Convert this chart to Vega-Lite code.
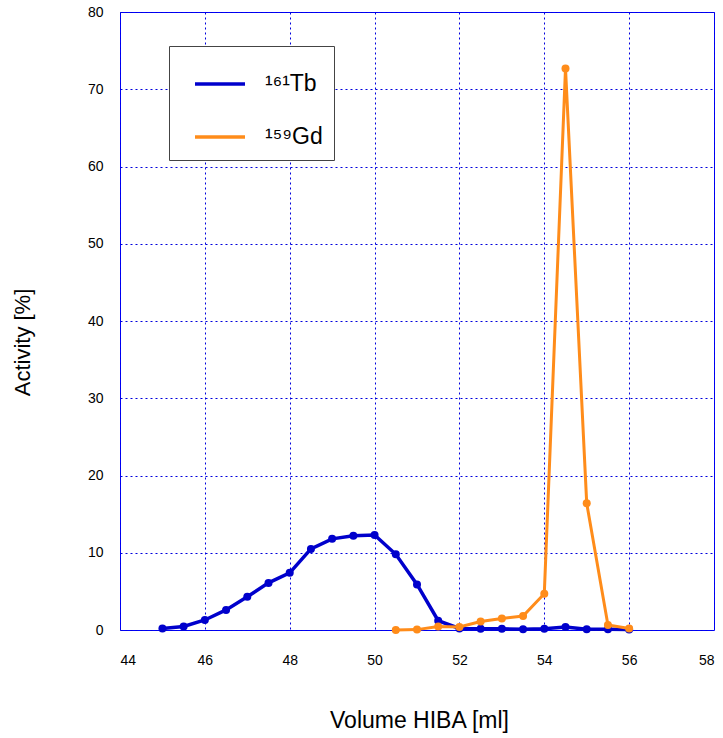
{
  "$schema": "https://vega.github.io/schema/vega-lite/v6.json",
  "autosize": {"type": "none"},
  "width": 594,
  "height": 618,
  "padding": {"left": 120, "top": 12, "right": 9, "bottom": 108},
  "background": "white",
  "config": {
    "font": "Liberation Sans",
    "view": {"stroke": "#0000ff", "strokeWidth": 1},
    "axis": {
      "grid": true,
      "gridColor": "#0000dd",
      "gridDash": [2, 3],
      "gridWidth": 1,
      "gridOpacity": 1,
      "domain": false,
      "ticks": false,
      "tickSize": 0,
      "labelColor": "black",
      "labelFontSize": 14,
      "labelFont": "Liberation Sans",
      "titleFont": "Liberation Sans",
      "titleFontSize": 22,
      "titleFontWeight": "normal",
      "titleColor": "black"
    }
  },
  "datasets": {
    "tb": [
      {"v": 45, "a": 0.2, "s": "¹⁶¹Tb"},
      {"v": 45.5, "a": 0.45, "s": "¹⁶¹Tb"},
      {"v": 46, "a": 1.3, "s": "¹⁶¹Tb"},
      {"v": 46.5, "a": 2.6, "s": "¹⁶¹Tb"},
      {"v": 47, "a": 4.3, "s": "¹⁶¹Tb"},
      {"v": 47.5, "a": 6.1, "s": "¹⁶¹Tb"},
      {"v": 48, "a": 7.4, "s": "¹⁶¹Tb"},
      {"v": 48.5, "a": 10.5, "s": "¹⁶¹Tb"},
      {"v": 49, "a": 11.8, "s": "¹⁶¹Tb"},
      {"v": 49.5, "a": 12.2, "s": "¹⁶¹Tb"},
      {"v": 50, "a": 12.3, "s": "¹⁶¹Tb"},
      {"v": 50.5, "a": 9.8, "s": "¹⁶¹Tb"},
      {"v": 51, "a": 5.9, "s": "¹⁶¹Tb"},
      {"v": 51.5, "a": 1.2, "s": "¹⁶¹Tb"},
      {"v": 52, "a": 0.2, "s": "¹⁶¹Tb"},
      {"v": 52.5, "a": 0.15, "s": "¹⁶¹Tb"},
      {"v": 53, "a": 0.15, "s": "¹⁶¹Tb"},
      {"v": 53.5, "a": 0.1, "s": "¹⁶¹Tb"},
      {"v": 54, "a": 0.15, "s": "¹⁶¹Tb"},
      {"v": 54.5, "a": 0.4, "s": "¹⁶¹Tb"},
      {"v": 55, "a": 0.1, "s": "¹⁶¹Tb"},
      {"v": 55.5, "a": 0.1, "s": "¹⁶¹Tb"},
      {"v": 56, "a": 0.05, "s": "¹⁶¹Tb"}
    ],
    "gd": [
      {"v": 50.5, "a": 0.0, "s": "¹⁵⁹Gd"},
      {"v": 51, "a": 0.05, "s": "¹⁵⁹Gd"},
      {"v": 51.5, "a": 0.45, "s": "¹⁵⁹Gd"},
      {"v": 52, "a": 0.4, "s": "¹⁵⁹Gd"},
      {"v": 52.5, "a": 1.1, "s": "¹⁵⁹Gd"},
      {"v": 53, "a": 1.5, "s": "¹⁵⁹Gd"},
      {"v": 53.5, "a": 1.8, "s": "¹⁵⁹Gd"},
      {"v": 54, "a": 4.7, "s": "¹⁵⁹Gd"},
      {"v": 54.5, "a": 72.7, "s": "¹⁵⁹Gd"},
      {"v": 55, "a": 16.4, "s": "¹⁵⁹Gd"},
      {"v": 55.5, "a": 0.65, "s": "¹⁵⁹Gd"},
      {"v": 56, "a": 0.2, "s": "¹⁵⁹Gd"}
    ]
  },
  "encoding": {
    "x": {
      "field": "v", "type": "quantitative",
      "scale": {"domain": [44, 58], "nice": false, "zero": false},
      "axis": {
        "values": [44, 46, 48, 50, 52, 54, 56, 58],
        "labelPadding": 23,
        "title": "Volume HIBA [ml]",
        "titleX": 299, "titleY": 90, "titleBaseline": "middle", "titleFontSize": 23
      }
    },
    "y": {
      "field": "a", "type": "quantitative",
      "scale": {"domain": [0, 80], "nice": false},
      "axis": {
        "values": [0, 10, 20, 30, 40, 50, 60, 70, 80],
        "labelPadding": 17,
        "title": "Activity [%]",
        "titleX": -98, "titleY": 330, "titleBaseline": "middle", "titleAngle": -90
      }
    },
    "color": {
      "field": "s", "type": "nominal",
      "scale": {"domain": ["¹⁶¹Tb", "¹⁵⁹Gd"], "range": ["#0000cc", "#ff8c1a"]},
      "legend": {
        "title": null,
        "orient": "none",
        "legendX": 49,
        "legendY": 34,
        "strokeColor": "#444444",
        "fillColor": "white",
        "padding": 11,
        "symbolType": "stroke",
        "symbolSize": 2500,
        "symbolStrokeWidth": 3.5,
        "symbolOffset": 13,
        "labelFontSize": 23,
        "labelOffset": 18,
        "labelColor": "black",
        "rowPadding": 14
      }
    }
  },
  "layer": [
    {
      "data": {"name": "tb"},
      "mark": {"type": "line", "strokeWidth": 3.5, "point": {"size": 64, "filled": true, "opacity": 1}}
    },
    {
      "data": {"name": "gd"},
      "mark": {"type": "line", "strokeWidth": 3, "point": {"size": 64, "filled": true, "opacity": 1}}
    }
  ]
}
